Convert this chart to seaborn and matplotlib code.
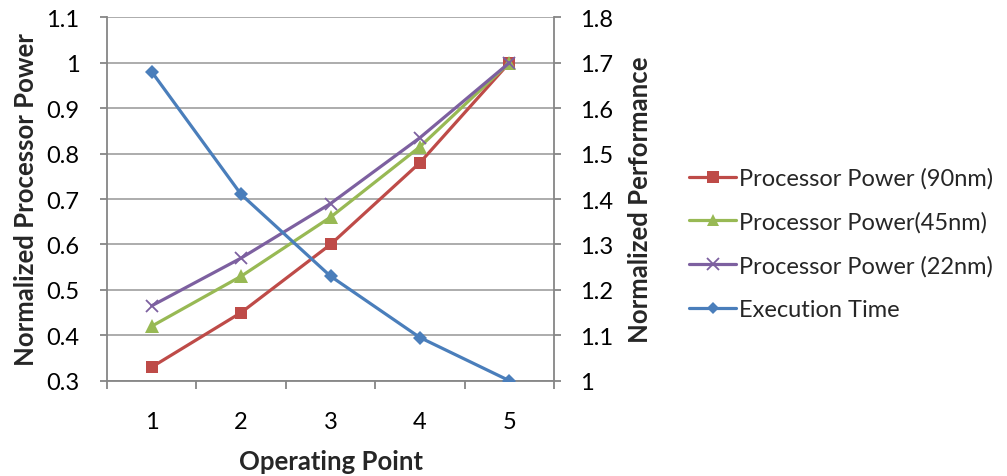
import matplotlib
matplotlib.use("Agg")
import matplotlib.pyplot as plt
from matplotlib.lines import Line2D
import seaborn as sns
import pandas as pd

# Operating points and measured series
operating_points = [1, 2, 3, 4, 5]
power_90nm = [0.33, 0.45, 0.60, 0.78, 1.00]
power_45nm = [0.42, 0.53, 0.66, 0.815, 1.00]
power_22nm = [0.465, 0.57, 0.69, 0.835, 1.00]
execution_time = [1.68, 1.41, 1.23, 1.095, 1.00]

left_ticks = [0.3, 0.4, 0.5, 0.6, 0.7, 0.8, 0.9, 1.0, 1.1]
left_tick_labels = ["0.3", "0.4", "0.5", "0.6", "0.7", "0.8", "0.9", "1", "1.1"]
right_ticks = [1.0, 1.1, 1.2, 1.3, 1.4, 1.5, 1.6, 1.7, 1.8]
right_tick_labels = ["1", "1.1", "1.2", "1.3", "1.4", "1.5", "1.6", "1.7", "1.8"]

sns.set_theme(style="white")
plt.rcParams["font.family"] = ["Lato", "DejaVu Sans"]

BLUE = "#4A7EBB"
RED = "#BE4B48"
GREEN = "#98B954"
PURPLE = "#7D60A0"
AXIS_GRAY = "#868686"
GRID_GRAY = "#A6A6A6"

TICK_FS = 17
LABEL_FS = 18.5
LEGEND_FS = 17
LW = 2.3

fig = plt.figure(figsize=(10.07, 4.77), dpi=100)
ax = fig.add_axes([0.1063, 0.1998, 0.4439, 0.7618])

power = pd.DataFrame({
    "point": operating_points * 3,
    "value": power_90nm + power_45nm + power_22nm,
    "series": (["Processor Power (90nm)"] * 5 + ["Processor Power(45nm)"] * 5
               + ["Processor Power (22nm)"] * 5),
})
series_style = {
    "Processor Power (90nm)": (RED, "s", 9, 0),
    "Processor Power(45nm)": (GREEN, "^", 10, 0),
    "Processor Power (22nm)": (PURPLE, "x", 9, 1.3),
}
for name, (color, marker, msize, mew) in series_style.items():
    sub = power[power["series"] == name]
    sns.lineplot(data=sub, x="point", y="value", ax=ax, color=color,
                 marker=marker, markersize=msize, linewidth=LW,
                 markeredgewidth=mew, markeredgecolor=color)

ax.set_xlim(0.5, 5.5)
ax.set_ylim(0.3, 1.1)
ax.set_yticks(left_ticks)
ax.set_yticklabels(left_tick_labels)
ax.set_xticks(operating_points)
ax.set_xticklabels([str(p) for p in operating_points])
ax.set_xticks([0.5, 1.5, 2.5, 3.5, 4.5, 5.5], minor=True)
ax.tick_params(axis="x", which="major", length=0, labelsize=TICK_FS, pad=22,
               colors="black")
ax.tick_params(axis="x", which="minor", length=6, width=1.3, color=AXIS_GRAY,
               direction="out", bottom=True)
ax.tick_params(axis="y", length=5, width=1.3, color=AXIS_GRAY, direction="out",
               labelsize=TICK_FS, pad=15, left=True, labelcolor="black")
ax.yaxis.grid(True, color=GRID_GRAY, linewidth=1.3)
ax.set_axisbelow(True)
for side in ["top", "right"]:
    ax.spines[side].set_visible(False)
for side in ["left", "bottom"]:
    ax.spines[side].set_color(AXIS_GRAY)
    ax.spines[side].set_linewidth(1.3)
ax.set_xlabel("Operating Point", fontsize=LABEL_FS, fontweight="bold", labelpad=12)
ax.set_ylabel("Normalized Processor Power", fontsize=LABEL_FS, fontweight="bold",
              labelpad=6)

ax2 = ax.twinx()
perf = pd.DataFrame({"point": operating_points, "value": execution_time})
sns.lineplot(data=perf, x="point", y="value", ax=ax2, color=BLUE, marker="D",
             markersize=7.5, markeredgewidth=0, linewidth=LW)
ax2.set_ylim(1.0, 1.8)
ax2.set_yticks(right_ticks)
ax2.set_yticklabels(right_tick_labels)
ax2.tick_params(axis="y", length=5, width=1.3, color=AXIS_GRAY, direction="out",
                labelsize=TICK_FS, pad=14, right=True, labelcolor="black")
for side in ["top", "left", "bottom"]:
    ax2.spines[side].set_visible(False)
ax2.spines["right"].set_color(AXIS_GRAY)
ax2.spines["right"].set_linewidth(1.3)
ax2.set_ylabel("Normalized Performance", fontsize=LABEL_FS, fontweight="bold",
               labelpad=10)
ax2.set_xlabel("")

handles = [
    Line2D([], [], color=RED, marker="s", markersize=8, markeredgewidth=0, linewidth=LW),
    Line2D([], [], color=GREEN, marker="^", markersize=9, markeredgewidth=0, linewidth=LW),
    Line2D([], [], color=PURPLE, marker="x", markersize=8, markeredgewidth=1.3,
           markeredgecolor=PURPLE, linewidth=LW),
    Line2D([], [], color=BLUE, marker="D", markersize=6.5, markeredgewidth=0, linewidth=LW),
]
labels = ["Processor Power (90nm)", "Processor Power(45nm)",
          "Processor Power (22nm)", "Execution Time"]
fig.legend(handles, labels, loc="center left", bbox_to_anchor=(0.675, 0.487),
           frameon=False, fontsize=LEGEND_FS, handlelength=2.0, handletextpad=0.1,
           labelspacing=0.95, borderaxespad=0)

fig.savefig("out.png", dpi=100)
